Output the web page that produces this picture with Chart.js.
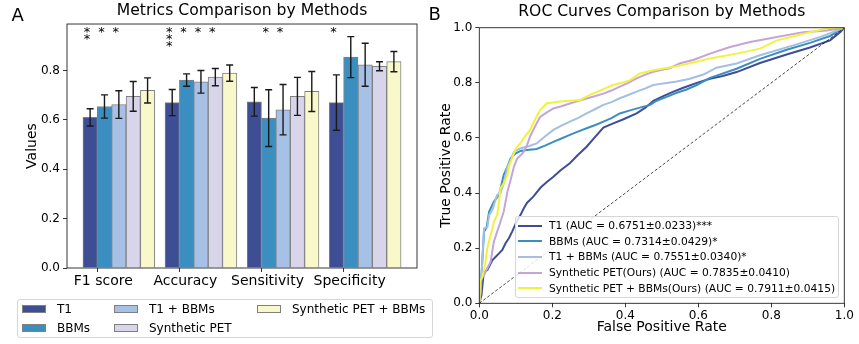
<!DOCTYPE html>
<html>
<head>
<meta charset="utf-8">
<script src="https://cdn.jsdelivr.net/npm/chart.js@4.4.1/dist/chart.umd.min.js"></script>
<style>
  body { margin: 0; background: #fff; }
  #wrap { position: relative; width: 859px; height: 344px; overflow: hidden; font-family: 'DejaVu Sans', sans-serif; }
  canvas { position: absolute; top: 0; }
  .panel { position: absolute; font-size: 18px; line-height: 18px; color: #000; }
  .legend { position: absolute; box-sizing: border-box; background: rgba(255,255,255,0.8); border: 1px solid #d6d6d6; border-radius: 3px; color: #000; }
  #barLegend { left: 17px; top: 298.5px; width: 416px; height: 39.5px; padding: 0 0 0 4px;
    display: grid; grid-template-rows: 19px 19px; grid-auto-flow: column; grid-template-columns: 92px 143px auto; font-size: 12px; }
  #barLegend .item { display: flex; align-items: center; white-space: nowrap; }
  #barLegend .patch { width: 24px; height: 8px; box-sizing: border-box; border: 1px solid #808080; margin-right: 11px; flex: none; }
  #rocLegend { left: 515px; top: 216px; width: 324px; height: 82px; padding: 1px 0 0 2px; font-size: 10.7px; }
  #rocLegend .item { display: flex; align-items: center; height: 15.6px; white-space: nowrap; }
  #rocLegend .line { width: 24px; height: 2px; margin-right: 7px; flex: none; }
</style>
</head>
<body>
<div id="wrap">
  <canvas id="barChart" width="430" height="344" style="left:0"></canvas>
  <canvas id="rocChart" width="429" height="344" style="left:430px"></canvas>
  <div id="barLegend" class="legend"></div>
  <div id="rocLegend" class="legend"></div>
  <div class="panel" style="left:11.5px;top:5.5px">A</div>
  <div class="panel" style="left:428.5px;top:4.8px">B</div>
</div>
<script>
// ---- panel A data ----
const metrics = ['F1 score', 'Accuracy', 'Sensitivity', 'Specificity'];
const methods = ['T1', 'BBMs', 'T1 + BBMs', 'Synthetic PET', 'Synthetic PET + BBMs'];

const meanT1 = [0.610, 0.670, 0.673, 0.670];
const meanBBMs = [0.654, 0.761, 0.607, 0.854];
const meanT1BBMs = [0.662, 0.754, 0.641, 0.823];
const meanPET = [0.695, 0.773, 0.695, 0.817];
const meanPETBBMs = [0.719, 0.789, 0.715, 0.836];

const errT1 = [0.035, 0.053, 0.058, 0.112];
const errBBMs = [0.047, 0.025, 0.115, 0.083];
const errT1BBMs = [0.056, 0.046, 0.102, 0.087];
const errPET = [0.060, 0.035, 0.077, 0.018];
const errPETBBMs = [0.051, 0.033, 0.081, 0.041];

const starsT1 = ['**', '***', '', '*'];
const starsBBMs = ['*', '*', '*', ''];
const starsT1BBMs = ['*', '*', '*', ''];
const starsPET = ['', '*', '', ''];
const starsPETBBMs = ['', '', '', ''];

const yTicksA = [0, 0.2, 0.4, 0.6, 0.8];

// ---- panel B data ----
const rocLabels = [
  'T1 (AUC = 0.6751±0.0233)***',
  'BBMs (AUC = 0.7314±0.0429)*',
  'T1 + BBMs (AUC = 0.7551±0.0340)*',
  'Synthetic PET(Ours) (AUC = 0.7835±0.0410)',
  'Synthetic PET + BBMs(Ours) (AUC = 0.7911±0.0415)'
];
const rocT1 = [[0,0],[0.006,0.03],[0.011,0.097],[0.015,0.115],[0.022,0.121],[0.029,0.139],[0.036,0.157],[0.045,0.169],[0.054,0.181],[0.063,0.194],[0.072,0.218],[0.081,0.236],[0.09,0.26],[0.1,0.29],[0.113,0.321],[0.122,0.345],[0.131,0.365],[0.148,0.387],[0.168,0.42],[0.185,0.44],[0.203,0.459],[0.222,0.482],[0.248,0.508],[0.27,0.538],[0.294,0.568],[0.318,0.605],[0.34,0.638],[0.367,0.653],[0.395,0.668],[0.431,0.689],[0.455,0.71],[0.477,0.735],[0.504,0.752],[0.532,0.768],[0.559,0.782],[0.596,0.8],[0.632,0.815],[0.667,0.825],[0.705,0.839],[0.769,0.872],[0.842,0.903],[0.906,0.928],[0.961,0.954],[0.99,0.985],[1,1]];
const rocBBMs = [[0,0],[0.004,0.054],[0.008,0.151],[0.013,0.26],[0.02,0.275],[0.027,0.333],[0.04,0.369],[0.054,0.393],[0.067,0.466],[0.077,0.496],[0.086,0.526],[0.1,0.544],[0.113,0.553],[0.131,0.556],[0.157,0.56],[0.18,0.572],[0.203,0.586],[0.225,0.598],[0.248,0.611],[0.27,0.623],[0.294,0.635],[0.318,0.647],[0.34,0.659],[0.362,0.672],[0.385,0.689],[0.413,0.7],[0.44,0.71],[0.468,0.72],[0.486,0.735],[0.513,0.749],[0.541,0.764],[0.568,0.776],[0.596,0.792],[0.632,0.818],[0.65,0.826],[0.705,0.851],[0.769,0.887],[0.842,0.92],[0.906,0.945],[0.961,0.97],[1,1]];
const rocT1BBMs = [[0,0],[0.004,0.042],[0.01,0.2],[0.013,0.272],[0.022,0.275],[0.027,0.32],[0.036,0.339],[0.04,0.357],[0.049,0.393],[0.058,0.4],[0.067,0.435],[0.077,0.496],[0.086,0.52],[0.095,0.55],[0.112,0.562],[0.135,0.57],[0.157,0.58],[0.18,0.605],[0.203,0.629],[0.225,0.645],[0.248,0.659],[0.27,0.672],[0.294,0.689],[0.318,0.705],[0.34,0.72],[0.362,0.73],[0.385,0.744],[0.408,0.756],[0.431,0.768],[0.455,0.78],[0.477,0.792],[0.504,0.798],[0.541,0.805],[0.577,0.815],[0.614,0.83],[0.65,0.855],[0.705,0.87],[0.769,0.9],[0.86,0.936],[0.933,0.966],[1,1]];
const rocPET = [[0,0],[0.004,0.085],[0.013,0.103],[0.022,0.127],[0.031,0.151],[0.04,0.224],[0.049,0.26],[0.058,0.296],[0.067,0.333],[0.077,0.405],[0.086,0.448],[0.095,0.496],[0.104,0.526],[0.112,0.535],[0.122,0.55],[0.131,0.575],[0.139,0.605],[0.152,0.64],[0.166,0.675],[0.182,0.69],[0.203,0.707],[0.225,0.715],[0.248,0.725],[0.27,0.734],[0.294,0.743],[0.318,0.752],[0.34,0.761],[0.362,0.772],[0.385,0.786],[0.408,0.8],[0.431,0.816],[0.455,0.83],[0.477,0.84],[0.504,0.848],[0.522,0.853],[0.55,0.871],[0.586,0.883],[0.632,0.906],[0.687,0.93],[0.742,0.948],[0.815,0.966],[0.888,0.984],[0.952,0.99],[1,1]];
const rocPETBBMs = [[0,0],[0.002,0.079],[0.008,0.097],[0.013,0.121],[0.017,0.151],[0.022,0.2],[0.031,0.248],[0.036,0.272],[0.04,0.296],[0.049,0.321],[0.054,0.369],[0.058,0.417],[0.067,0.435],[0.077,0.466],[0.081,0.496],[0.09,0.526],[0.1,0.562],[0.112,0.58],[0.125,0.605],[0.139,0.629],[0.152,0.665],[0.166,0.7],[0.185,0.726],[0.203,0.729],[0.221,0.732],[0.25,0.735],[0.276,0.738],[0.294,0.75],[0.312,0.762],[0.34,0.777],[0.367,0.792],[0.39,0.8],[0.413,0.81],[0.44,0.834],[0.477,0.846],[0.532,0.858],[0.577,0.871],[0.632,0.888],[0.705,0.906],[0.769,0.924],[0.815,0.954],[0.87,0.972],[0.906,0.984],[0.961,1.0],[1,1]];
const chanceLine = [[0,0],[1,1]];
const rocTicks = [0, 0.2, 0.4, 0.6, 0.8, 1.0];

// ---- styles ----
const FONT = "'DejaVu Sans', sans-serif";
const barColors = ['#3e4e94', '#3b8fc0', '#a6c1e5', '#d8d4e9', '#f9f8cb'];
const rocColors = ['#3e4e94', '#3b8fc0', '#a3bfe2', '#c4a4d9', '#f2f23e'];
const BAR_W = 0.175;

Chart.defaults.font.family = FONT;
Chart.defaults.color = '#000';

const barMeans = [meanT1, meanBBMs, meanT1BBMs, meanPET, meanPETBBMs];
const barErrs = [errT1, errBBMs, errT1BBMs, errPET, errPETBBMs];
const barStars = [starsT1, starsBBMs, starsT1BBMs, starsPET, starsPETBBMs];
const rocSeries = [rocT1, rocBBMs, rocT1BBMs, rocPET, rocPETBBMs];

// axes frame like matplotlib spines
const framePlugin = {
  id: 'frame',
  afterDraw(chart) {
    const a = chart.chartArea, ctx = chart.ctx;
    ctx.save();
    ctx.strokeStyle = '#222';
    ctx.lineWidth = 0.9;
    ctx.strokeRect(a.left, a.top, a.right - a.left, a.bottom - a.top);
    ctx.restore();
  }
};

const errorBarPlugin = {
  id: 'errorBars',
  afterDatasetsDraw(chart) {
    const ctx = chart.ctx, y = chart.scales.y;
    ctx.save();
    ctx.strokeStyle = '#1a1a1a';
    ctx.lineWidth = 1.4;
    chart.data.datasets.forEach((ds, i) => {
      chart.getDatasetMeta(i).data.forEach((bar, g) => {
        const v = barMeans[i][g], e = barErrs[i][g];
        const y1 = y.getPixelForValue(v + e), y2 = y.getPixelForValue(v - e);
        ctx.beginPath();
        ctx.moveTo(bar.x, y1); ctx.lineTo(bar.x, y2);
        ctx.moveTo(bar.x - 3.5, y1); ctx.lineTo(bar.x + 3.5, y1);
        ctx.moveTo(bar.x - 3.5, y2); ctx.lineTo(bar.x + 3.5, y2);
        ctx.stroke();
      });
    });
    ctx.restore();
  }
};

const starPlugin = {
  id: 'stars',
  afterDatasetsDraw(chart) {
    const ctx = chart.ctx, y = chart.scales.y;
    ctx.save();
    ctx.fillStyle = '#000';
    ctx.font = '13px ' + FONT;
    ctx.textAlign = 'center';
    ctx.textBaseline = 'alphabetic';
    const base = y.getPixelForValue(0.94);
    chart.data.datasets.forEach((ds, i) => {
      chart.getDatasetMeta(i).data.forEach((bar, g) => {
        const s = barStars[i][g];
        for (let k = 0; k < s.length; k++) ctx.fillText('*', bar.x - 3, base + k * 7.2);
      });
    });
    ctx.restore();
  }
};

const tickGrid = { drawOnChartArea: false, drawTicks: true, tickLength: 4, tickColor: '#000', tickWidth: 0.8, offset: false };

new Chart(document.getElementById('barChart'), {
  type: 'bar',
  data: {
    datasets: methods.map((m, i) => ({
      label: m,
      data: barMeans[i].map((v, g) => ({ x: g + (i - 0.5) * BAR_W, y: v })),
      backgroundColor: barColors[i],
      borderColor: '#808080',
      borderWidth: 1,
      grouped: false,
      categoryPercentage: 1,
      barPercentage: 1
    }))
  },
  options: {
    responsive: false,
    animation: false,
    layout: { padding: { left: 0, right: 13, top: 2, bottom: 0 } },
    plugins: {
      legend: { display: false },
      tooltip: { enabled: false },
      title: {
        display: true, text: 'Metrics Comparison by Methods', fullSize: false, color: '#000',
        font: { size: 15.6, weight: 'normal' }, padding: { top: 0, bottom: 3.3 }
      }
    },
    scales: {
      x: {
        type: 'linear', min: -0.369, max: 3.894, offset: false,
        afterBuildTicks: s => { s.ticks = metrics.map((_, g) => ({ value: g })); },
        afterFit: s => { s.height = 76; },
        grid: tickGrid,
        border: { display: false },
        ticks: { callback: v => metrics[v], font: { size: 14 }, color: '#000', padding: 1, labelOffset: 6, maxRotation: 0, autoSkip: false }
      },
      y: {
        min: 0, max: 0.988,
        afterBuildTicks: s => { s.ticks = yTicksA.map(v => ({ value: v })); },
        afterFit: s => { s.width = 67; },
        grid: tickGrid,
        border: { display: false },
        ticks: { callback: v => v.toFixed(1), font: { size: 12 }, color: '#000', padding: 3 },
        title: { display: true, text: 'Values', font: { size: 14 }, color: '#000', padding: { top: 24, bottom: 0 } }
      }
    }
  },
  plugins: [errorBarPlugin, starPlugin, framePlugin]
});

new Chart(document.getElementById('rocChart'), {
  type: 'scatter',
  data: {
    datasets: rocSeries.map((s, i) => ({
      label: rocLabels[i],
      data: s.map(p => ({ x: p[0], y: p[1] })),
      borderColor: rocColors[i],
      backgroundColor: rocColors[i],
      borderWidth: 2,
      showLine: true,
      pointRadius: 0,
      tension: 0,
      order: 10 - i
    })).concat([{
      label: 'chance',
      data: chanceLine.map(p => ({ x: p[0], y: p[1] })),
      borderColor: '#000',
      borderWidth: 0.7,
      borderDash: [3, 2],
      showLine: true,
      pointRadius: 0,
      order: 0
    }])
  },
  options: {
    responsive: false,
    animation: false,
    layout: { padding: { left: 0, right: 14.7, top: 3, bottom: 0 } },
    plugins: {
      legend: { display: false },
      tooltip: { enabled: false },
      title: {
        display: true, text: 'ROC Curves Comparison by Methods', fullSize: false, color: '#000',
        font: { size: 15.6, weight: 'normal' }, padding: { top: 0, bottom: 6 }
      }
    },
    scales: {
      x: {
        type: 'linear', min: 0, max: 1,
        afterBuildTicks: s => { s.ticks = rocTicks.map(v => ({ value: v })); },
        afterFit: s => { s.height = 40.7; },
        grid: tickGrid,
        border: { display: false },
        ticks: { callback: v => v.toFixed(1), font: { size: 12 }, color: '#000', padding: 1, maxRotation: 0 },
        title: { display: true, text: 'False Positive Rate', font: { size: 14 }, color: '#000', padding: { top: 0, bottom: 8.6 } }
      },
      y: {
        type: 'linear', min: 0, max: 1,
        afterBuildTicks: s => { s.ticks = rocTicks.map(v => ({ value: v })); },
        afterFit: s => { s.width = 49.3; },
        grid: tickGrid,
        border: { display: false },
        ticks: { callback: v => v.toFixed(1), font: { size: 12 }, color: '#000', padding: 3 },
        title: { display: true, text: 'True Positive Rate', font: { size: 14 }, color: '#000', padding: { top: 8.3, bottom: 0 } }
      }
    }
  },
  plugins: [framePlugin]
});

// legends built from the same arrays
const barLegend = document.getElementById('barLegend');
methods.forEach((m, i) => {
  const it = document.createElement('div');
  it.className = 'item';
  it.innerHTML = '<span class="patch" style="background:' + barColors[i] + '"></span><span></span>';
  it.lastChild.textContent = m;
  barLegend.appendChild(it);
});
const rocLegend = document.getElementById('rocLegend');
rocLabels.forEach((l, i) => {
  const it = document.createElement('div');
  it.className = 'item';
  it.innerHTML = '<span class="line" style="background:' + rocColors[i] + '"></span><span></span>';
  it.lastChild.textContent = l;
  rocLegend.appendChild(it);
});
</script>
</body>
</html>
